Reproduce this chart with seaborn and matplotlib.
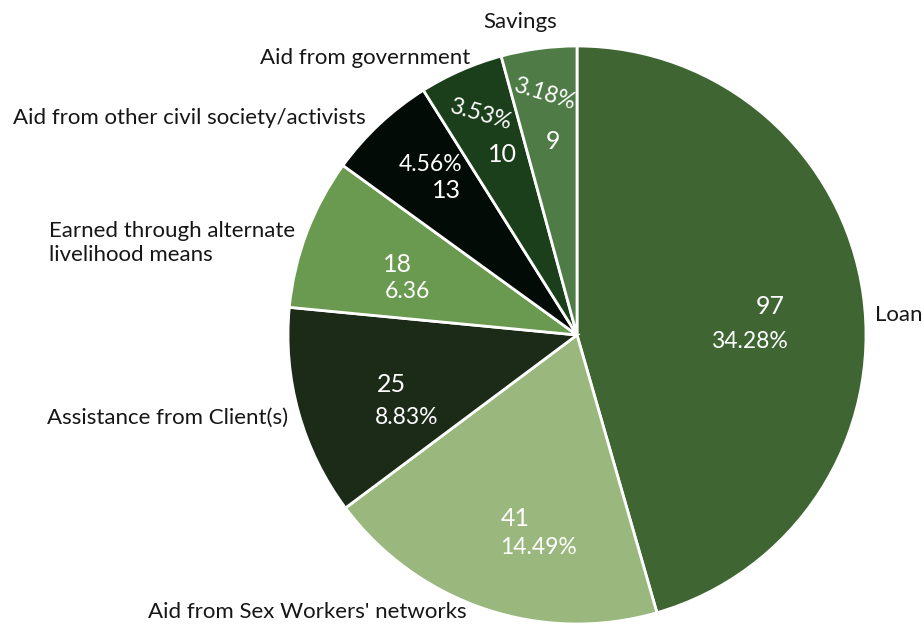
import matplotlib
matplotlib.use("Agg")
import matplotlib.pyplot as plt
import seaborn as sns

# Sources of money and respondent counts
categories = [
    "Loan",
    "Aid from Sex Workers' networks",
    "Assistance from Client(s)",
    "Earned through alternate\nlivelihood means",
    "Aid from other civil society/activists",
    "Aid from government",
    "Savings",
]
counts = [97, 41, 25, 18, 13, 10, 9]
pct_labels = ["34.28%", "14.49%", "8.83%", "6.36", "4.56%", "3.53%", "3.18%"]
colors = ["#3f6533", "#9ab87e", "#1b2b18", "#6a9a4f", "#020b05", "#1b3f1b", "#4f7b46"]

sns.set_theme(style="white")
plt.rcParams["font.family"] = ["Lato", "DejaVu Sans"]

W, H = 924, 625
CX, CY, R = 577, 335, 289  # pie centre and radius in pixels


def px(x, y):
    """Pixel position -> pie data coordinates (radius 1)."""
    return (x - CX) / R, (CY - y) / R


fig = plt.figure(figsize=(W / 100, H / 100), dpi=100)
ax = fig.add_axes([(CX - R) / W, (H - CY - R) / H, 2 * R / W, 2 * R / H])

wedges, _ = ax.pie(
    counts,
    colors=colors,
    startangle=90,
    counterclock=False,
    radius=1,
    wedgeprops=dict(edgecolor="white", linewidth=2),
)
ax.set_xlim(-1, 1)
ax.set_ylim(-1, 1)
ax.set_aspect("equal")
ax.axis("off")

# Category labels around the pie
outer_pos = [(875, 315), (467, 612), (288, 418), (295, 243), (366, 118), (470, 58), (557, 22)]
outer_ha = ["left", "right", "right", "right", "right", "right", "right"]
for name, (x, y), ha in zip(categories, outer_pos, outer_ha):
    ax.text(*px(x, y), name, ha=ha, va="center", fontsize=16, color="#161616",
            multialignment="left", linespacing=1.3, clip_on=False)

# Count and share inside each slice
count_pos = [(770, 306), (515, 518), (391, 385), (397, 264), (446, 191), (502, 154), (553, 141)]
pct_pos = [(749, 341), (538, 548), (407, 418), (407, 291), (431, 164), (480, 115), (544, 94)]
pct_rot = [0, 0, 0, 0, 0, -16, -17]
for n, p, (cx_, cy_), (px_, py_), rot in zip(counts, pct_labels, count_pos, pct_pos, pct_rot):
    ax.text(*px(cx_, cy_), str(n), ha="center", va="center", fontsize=18, color="white")
    ax.text(*px(px_, py_), p, ha="center", va="center", fontsize=16.5,
            color="white", rotation=rot, rotation_mode="anchor")

fig.savefig("out.png", dpi=100, facecolor="white")
